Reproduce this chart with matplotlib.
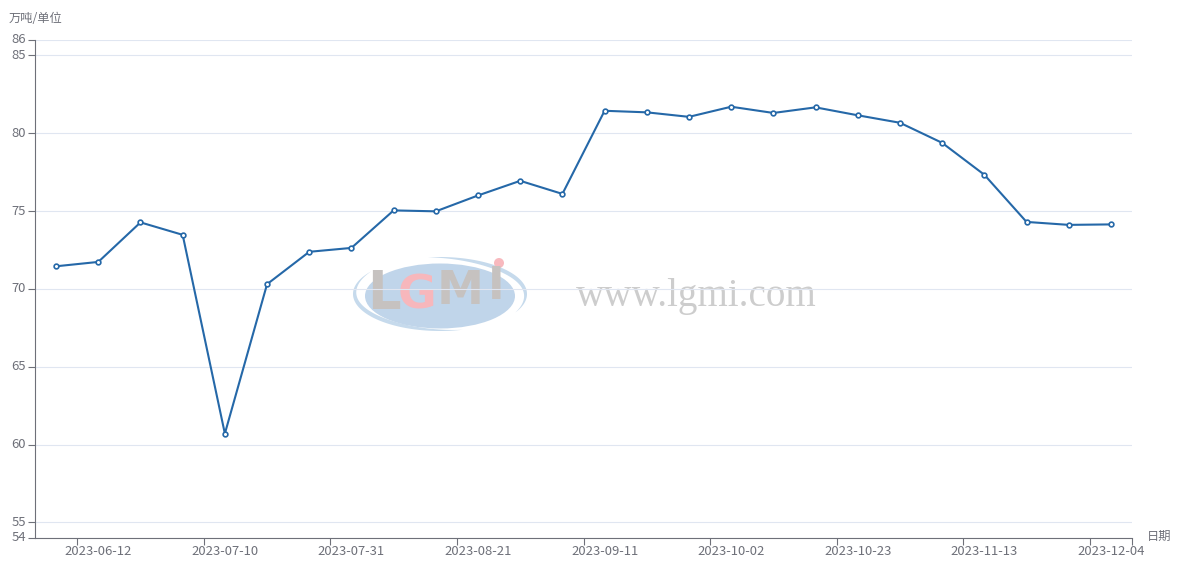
import matplotlib
matplotlib.use("Agg")
import matplotlib.pyplot as plt
from matplotlib.patches import Ellipse, Circle, Polygon
from matplotlib.transforms import ScaledTranslation
import numpy as np

plt.rcParams['font.family'] = ['Noto Sans CJK SC', 'DejaVu Sans']

dates = ["2023-06-05","2023-06-12","2023-06-19","2023-06-26","2023-07-10","2023-07-17","2023-07-24",
         "2023-07-31","2023-08-07","2023-08-14","2023-08-21","2023-08-28","2023-09-04","2023-09-11",
         "2023-09-18","2023-09-25","2023-10-02","2023-10-09","2023-10-16","2023-10-23","2023-10-30",
         "2023-11-06","2023-11-13","2023-11-20","2023-11-27","2023-12-04"]
values = [71.45,71.73,74.27,73.47,60.7,70.3,72.38,72.63,75.04,74.98,76.0,76.94,76.1,
          81.44,81.34,81.05,81.7,81.3,81.66,81.15,80.67,79.38,77.33,74.3,74.11,74.14]
y_ticks = [54,55,60,65,70,75,80,85,86]
label_idx = [1,4,7,10,13,16,19,22,25]

W, H = 1178, 561
GRID = "#E0E6F1"; AXIS = "#6E7079"; LINE = "#2568A8"

fig = plt.figure(figsize=(W/100, H/100), dpi=100, facecolor="white")

# watermark layer in pixel coordinates
bg = fig.add_axes([0,0,1,1], zorder=0)
bg.set_xlim(0,W); bg.set_ylim(H,0); bg.axis("off")

def crescent(t1, t2, maxw):
    t = np.radians(np.linspace(t1, t2, 80))
    w = maxw*np.sin(np.linspace(0, np.pi, 80))
    outer = np.c_[440+87*np.cos(t), 294-37*np.sin(t)]
    inner = np.c_[440+(87-w)*np.cos(t), 294-(37-w)*np.sin(t)]
    return np.vstack([outer, inner[::-1]])

bg.add_patch(Polygon(crescent(142, 285, 4.5), color="#C6DAEC", lw=0))
bg.add_patch(Polygon(crescent(-30, 98, 4.5), color="#C6DAEC", lw=0))
bg.add_patch(Ellipse((440,296),150,65,color="#C0D5EA",lw=0))
bg.add_patch(Circle((499,263),5,color="#F8B9BE",lw=0))
logo = dict(family="DejaVu Sans",weight="bold",ha="center",va="center")
bg.text(384,294,"L",color="#C6C2C0",fontsize=38,**logo)
bg.text(417,296,"G",color="#F7B7BC",fontsize=34,**logo)
bg.text(460,291,"M",color="#C6C2C0",fontsize=34,**logo)
bg.text(496,286,"I",color="#C6C2C0",fontsize=32,**logo)
bg.text(696,296.5,"www.lgmi.com",color="#CDCDCD",family="Liberation Serif",ha="center",va="center",fontsize=28.1)

ax = fig.add_axes([35/W, 1-537.9/H, (1132-35)/W, (537.9-39.8)/H], zorder=1)
ax.patch.set_alpha(0)
x = np.arange(len(values))
ax.set_xlim(-0.5, len(values)-0.5)
ax.set_ylim(54,86)
for s in ("top","right"):
    ax.spines[s].set_visible(False)
for s in ("left","bottom"):
    ax.spines[s].set_color(AXIS); ax.spines[s].set_linewidth(0.8)
ax.set_yticks(y_ticks)
ax.grid(axis="y",color=GRID,lw=0.8)
ax.set_axisbelow(True)
ax.tick_params(axis="y",length=5,width=0.8,color=AXIS,labelcolor=AXIS,labelsize=9.4,pad=1.5)
for lab in ax.get_yticklabels():
    lab.set_transform(lab.get_transform()+ScaledTranslation(0,1.5/100,fig.dpi_scale_trans))
# ticks at band edges, labels at band centres
ax.set_xticks([i-0.5 for i in label_idx]+[len(values)-0.5])
ax.set_xticklabels([])
ax.tick_params(axis="x",length=5,width=0.8,color=AXIS)
for i in label_idx:
    ax.annotate(dates[i],(i,0),xycoords=("data","axes fraction"),xytext=(0,-13.5),
                textcoords="offset pixels",ha="center",va="center",color=AXIS,fontsize=9.4,annotation_clip=False)
ax.plot(x,values,color=LINE,lw=1.5,marker="o",ms=3.4,mfc="white",mec=LINE,mew=1.2,clip_on=False)

fig.text(9/W,1-18/H,"万吨/单位",color=AXIS,fontsize=8.8,ha="left",va="center")
fig.text(1147/W,1-536/H,"日期",color=AXIS,fontsize=8.8,ha="left",va="center")

fig.savefig("out.png",dpi=100,facecolor="white")
